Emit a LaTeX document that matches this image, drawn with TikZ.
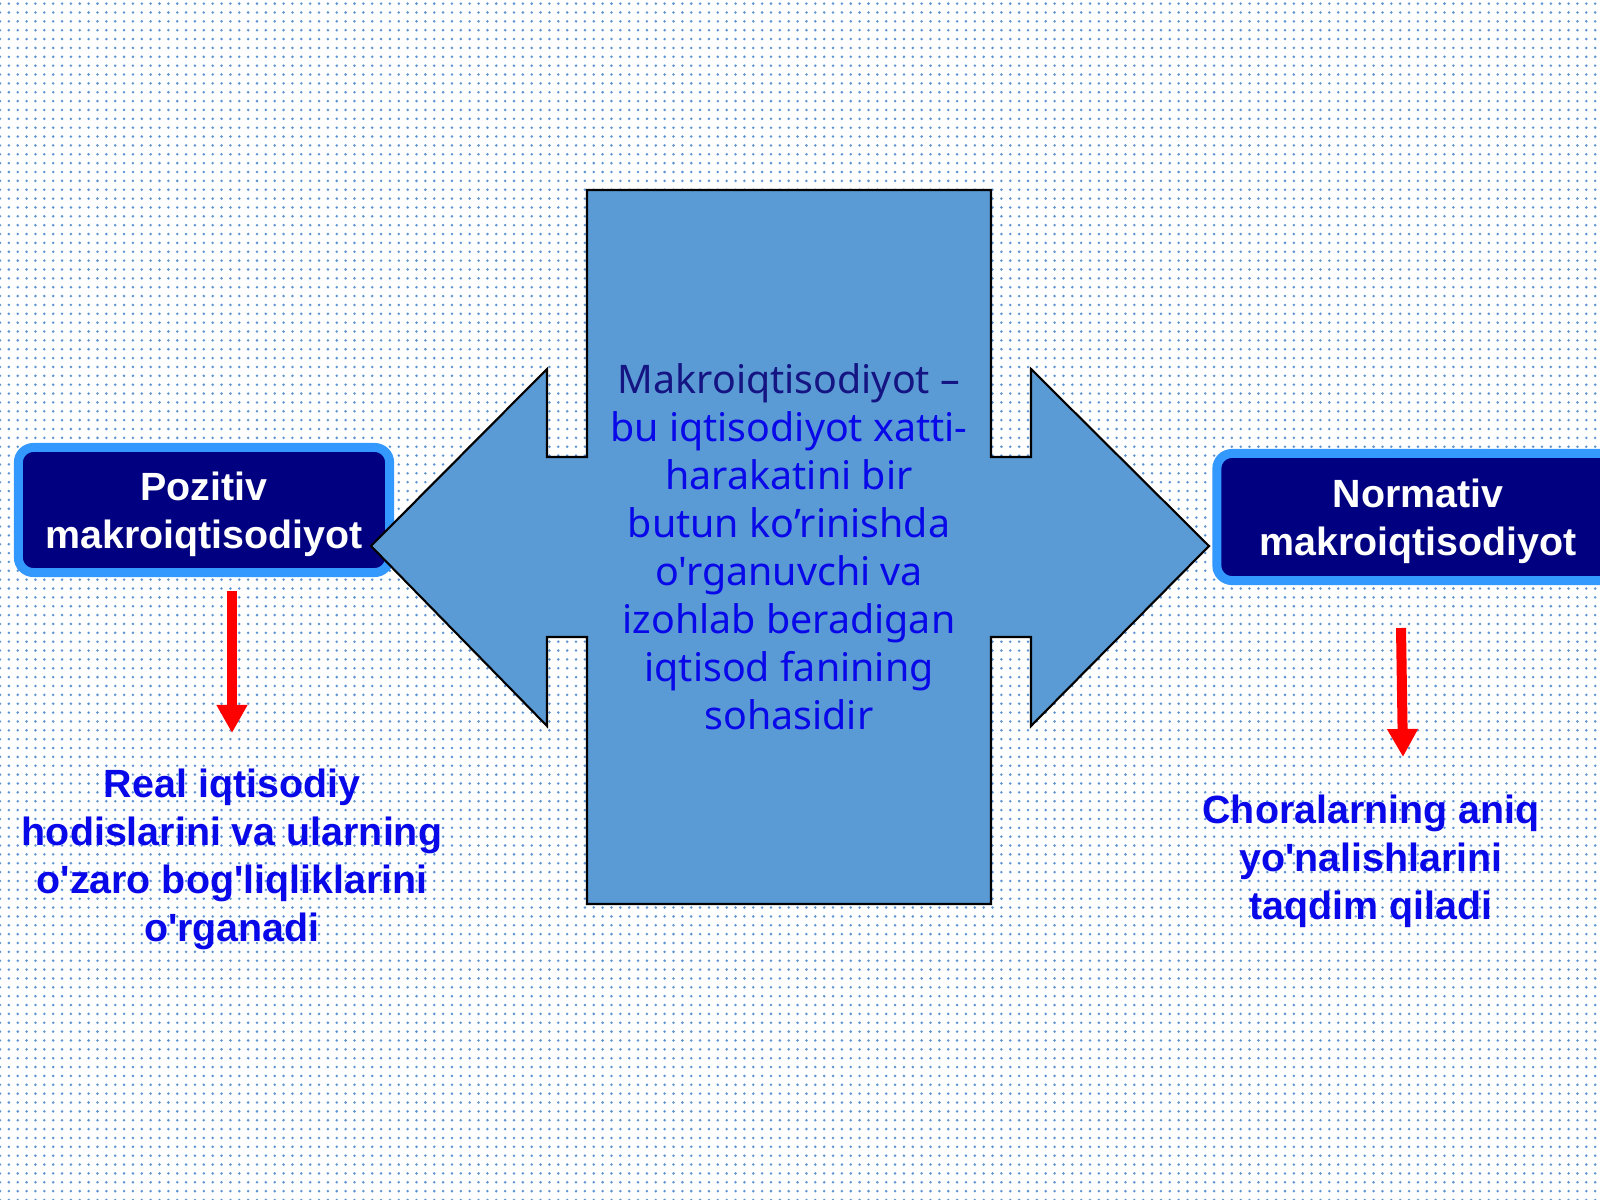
\documentclass[tikz,border=0pt]{standalone}
\usepackage{fontspec}
\setmainfont{Liberation Sans}[Ligatures=TeXOff]
\newfontfamily\notosans{Noto Sans}
\usepackage{xcolor}
\usetikzlibrary{arrows.meta,patterns.meta}
\definecolor{shapeblue}{RGB}{91,155,213}
\definecolor{boxnavy}{RGB}{0,0,128}
\definecolor{boxrim}{RGB}{51,153,255}
\definecolor{noteblue}{RGB}{8,8,232}
\definecolor{leadnavy}{RGB}{20,20,130}
\definecolor{dotblue}{RGB}{95,148,210}
\newcommand{\boxstrut}{\rule{0pt}{0.38cm}}

\begin{document}
\begin{tikzpicture} [x=0.01cm, y=-0.01cm,
  titlebox/.style={draw=boxrim, fill=boxnavy, line width=0.09cm, rounded corners=0.15cm,
    text=white, font=\bfseries\fontsize{11.2}{13.66}\selectfont, align=center, inner sep=0pt},
  notetext/.style={text=noteblue, font=\bfseries\fontsize{11.2}{13.66}\selectfont, align=center},
  coretext/.style={text=noteblue, font=\notosans\fontsize{11.2}{13.66}\selectfont, align=center},
  downarrow/.style={draw=red, line width=0.1cm, -{Triangle[width=0.29cm,length=0.28cm]}}]

\useasboundingbox (0,0) rectangle (1600,1200);
\fill[white] (0,0) rectangle (1600,1200);
\fill[pattern={Dots[radius=0.4pt, distance=2.52pt]}, pattern color=dotblue] (0,0) rectangle (1600,1200);

\node[titlebox, minimum width=3.71cm, minimum height=1.25cm] (pozitiv) at (204,510) {\boxstrut Pozitiv\\makroiqtisodiyot};
\node[titlebox, minimum width=4.02cm, minimum height=1.27cm] (normativ) at (1418,517) {\boxstrut Normativ\\makroiqtisodiyot};

\coordinate (tl) at (587,190);
\coordinate (tr) at (991,190);
\coordinate (br) at (991,904);
\coordinate (bl) at (587,904);
\coordinate (ltip) at (371,546);
\coordinate (rtip) at (1209,546);

\fill[shapeblue, draw=black, line width=0.6pt] (tl) -- (tr) -- (991,457) -- (1031,457) -- (1031,369)
  -- (rtip) -- (1031,726) -- (1031,637) -- (991,637) -- (br) -- (bl) -- (587,637) -- (547,637)
  -- (547,726) -- (ltip) -- (547,369) -- (547,457) -- (587,457) -- cycle;

\node[coretext] (core) at (789,547) {\textcolor{leadnavy}{Makroiqtisodiyot –}\\bu iqtisodiyot xatti-\\harakatini bir\\butun ko’rinishda\\o'rganuvchi va\\izohlab beradigan\\iqtisod fanining\\sohasidir};

\coordinate (pa) at (232,591);
\coordinate (pb) at (232,733);
\coordinate (na) at (1401,628);
\coordinate (nb) at (1403,757);

\draw[downarrow] (pa) -- (pb);
\draw[downarrow] (na) -- (nb);

\node[notetext] (real) at (232,859) {Real iqtisodiy\\hodislarini va ularning\\o'zaro bog'liqliklarini\\o'rganadi};
\node[notetext] (chora) at (1371,861) {Choralarning aniq\\yo'nalishlarini\\taqdim qiladi};

\end{tikzpicture}
\end{document}
